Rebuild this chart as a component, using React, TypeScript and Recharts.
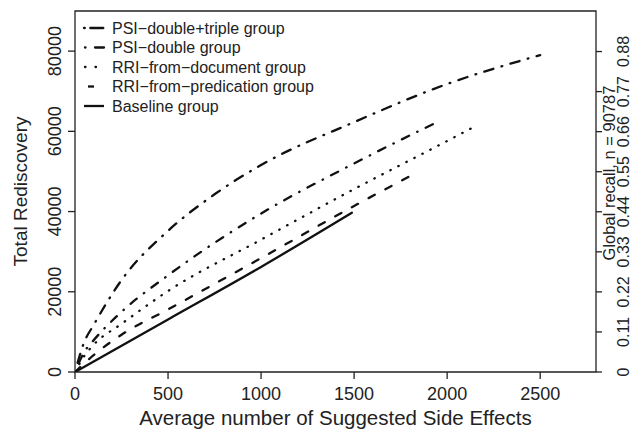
import React from 'react';
import { LineChart, Line, XAxis, YAxis, ReferenceArea, Legend } from 'recharts';

const FONT = '"Liberation Sans", Arial, Helvetica, sans-serif';
const INK = '#222';
const LINE = '#111';

// Data
const psiDoubleTripleX = [0, 50, 100, 250, 500, 750, 1000, 1500, 2000, 2500];
const psiDoubleTripleY = [0, 7500, 11700, 22900, 35200, 44300, 51600, 62300, 71800, 79000];

const psiDoubleX = [0, 50, 100, 250, 500, 1000, 1500, 1937];
const psiDoubleY = [0, 5000, 7900, 15000, 24100, 39500, 52000, 62100];

const rriDocX = [0, 50, 100, 250, 500, 1000, 1500, 2000, 2152];
const rriDocY = [0, 4000, 6800, 12000, 20200, 33000, 45600, 57600, 61300];

const rriPredX = [0, 100, 250, 500, 1000, 1500, 1820];
const rriPredY = [0, 4200, 9300, 15600, 28400, 41400, 49300];

const baselineX = [0, 500, 1000, 1488];
const baselineY = [0, 13100, 26200, 39700];

const seriesNames = [
  'PSI\u2212double+triple group',
  'PSI\u2212double group',
  'RRI\u2212from\u2212document group',
  'RRI\u2212from\u2212predication group',
  'Baseline group',
];

const xTicks = [0, 500, 1000, 1500, 2000, 2500];
const yTicks = [0, 20000, 40000, 60000, 80000];
const recallTicks = [0, 0.11, 0.22, 0.33, 0.44, 0.55, 0.66, 0.77, 0.88];
const totalN = 90787;
const yMax = 90000;
const xMax = 2800;

const zip = (xs: number[], ys: number[]) => xs.map((x, i) => ({ x, y: ys[i] }));

const seriesData = [
  zip(psiDoubleTripleX, psiDoubleTripleY),
  zip(psiDoubleX, psiDoubleY),
  zip(rriDocX, rriDocY),
  zip(rriPredX, rriPredY),
  zip(baselineX, baselineY),
];

const dashes = ['0.8 8.5 9.5 8.5', '0.5 9 8 9', '0.5 8.5', '7 12', undefined];
const legendDashes = ['0.8 5.5 13 30', '0.5 9.5 9 30', '0.5 10 0.5 30', undefined, undefined];
const legendSeg: [number, number][] = [
  [84, 104],
  [85, 104],
  [85, 96],
  [88, 94],
  [84, 104],
];

const LeftTick = (props: any) => {
  const { x, y, payload } = props;
  return (
    <text
      transform={`translate(${x - 5},${y}) rotate(-90)`}
      textAnchor="middle"
      fontSize={18}
      fontFamily={FONT}
      fill={INK}
    >
      {payload.value}
    </text>
  );
};

const RightTick = (props: any) => {
  const { x, y, payload } = props;
  return (
    <text
      transform={`translate(${x + 25},${y}) rotate(-90)`}
      textAnchor="middle"
      fontSize={16}
      fontFamily={FONT}
      fill={INK}
    >
      {String(payload.value)}
    </text>
  );
};

const XTitle = (props: any) => {
  const vb = props.viewBox;
  return (
    <text x={vb.x + vb.width / 2} y={vb.y + 53} textAnchor="middle" fontSize={20.5} fontFamily={FONT} fill={INK}>
      Average number of Suggested Side Effects
    </text>
  );
};

const LeftTitle = (props: any) => {
  const vb = props.viewBox;
  const cy = vb.y + vb.height / 2;
  return (
    <text transform={`translate(${vb.x + 27},${cy}) rotate(-90)`} textAnchor="middle" fontSize={19} fontFamily={FONT} fill={INK}>
      Total Rediscovery
    </text>
  );
};

const RightTitle = (props: any) => {
  const vb = props.viewBox;
  return (
    <text transform={`translate(${vb.x + 19},${vb.y + 162}) rotate(-90)`} textAnchor="middle" fontSize={16.5} fontFamily={FONT} fill={INK}>
      {`Global recall, n = ${totalN}`}
    </text>
  );
};

const LegendContent = () => {
  const rowY = [28, 47.5, 67, 86.5, 106];
  return (
    <svg width={633} height={430} style={{ position: 'absolute', left: 0, top: 0 }}>
      {seriesNames.map((name, i) => (
        <g key={name}>
          <line
            x1={legendSeg[i][0]}
            x2={legendSeg[i][1]}
            y1={rowY[i]}
            y2={rowY[i]}
            stroke={LINE}
            strokeWidth={2.3}
            strokeDasharray={legendDashes[i]}
            strokeLinecap={i === 4 || i === 3 ? 'butt' : 'round'}
          />
          <text x={112} y={rowY[i] + 5.8} fontSize={16} fontFamily={FONT} fill={INK}>
            {name}
          </text>
        </g>
      ))}
    </svg>
  );
};

export default function App() {
  return (
    <div style={{ position: 'absolute', left: 0, top: 0, width: 633, height: 430, background: '#fff' }}>
      <LineChart width={633} height={430} margin={{ top: 11, right: 0, bottom: 0, left: 0 }}>
        <XAxis
          type="number"
          dataKey="x"
          domain={[0, xMax]}
          ticks={xTicks}
          height={58}
          tickSize={7}
          tickMargin={8}
          axisLine={false}
          allowDataOverflow
          tick={{ fontSize: 18, fill: INK, fontFamily: FONT }}
          tickLine={{ stroke: INK, strokeWidth: 1.3 }}
          label={XTitle}
        />
        <YAxis
          yAxisId="left"
          type="number"
          domain={[0, yMax]}
          ticks={yTicks}
          width={75}
          tickSize={7}
          axisLine={false}
          allowDataOverflow
          tick={LeftTick}
          tickLine={{ stroke: INK, strokeWidth: 1.3 }}
          label={LeftTitle}
        />
        <YAxis
          yAxisId="recall"
          orientation="right"
          type="number"
          domain={[0, yMax / totalN]}
          ticks={recallTicks}
          width={37}
          tickSize={6}
          axisLine={false}
          allowDataOverflow
          tick={RightTick}
          tickLine={{ stroke: INK, strokeWidth: 1.3 }}
          label={RightTitle}
        />
        <ReferenceArea
          yAxisId="left"
          x1={0}
          x2={xMax}
          y1={0}
          y2={yMax}
          fill="none"
          fillOpacity={0}
          stroke={INK}
          strokeWidth={1.3}
          ifOverflow="visible"
        />
        {seriesData.map((d, i) => (
          <Line
            key={seriesNames[i]}
            yAxisId="left"
            data={d}
            dataKey="y"
            name={seriesNames[i]}
            type="monotone"
            stroke={LINE}
            strokeWidth={2.3}
            strokeDasharray={dashes[i]}
            strokeLinecap="round"
            dot={false}
            activeDot={false}
            isAnimationActive={false}
          />
        ))}
        <Legend
          layout="vertical"
          align="center"
          verticalAlign="middle"
          content={LegendContent}
          wrapperStyle={{ left: 0, top: 0, width: 633, height: 430, pointerEvents: 'none' }}
        />
      </LineChart>
    </div>
  );
}
